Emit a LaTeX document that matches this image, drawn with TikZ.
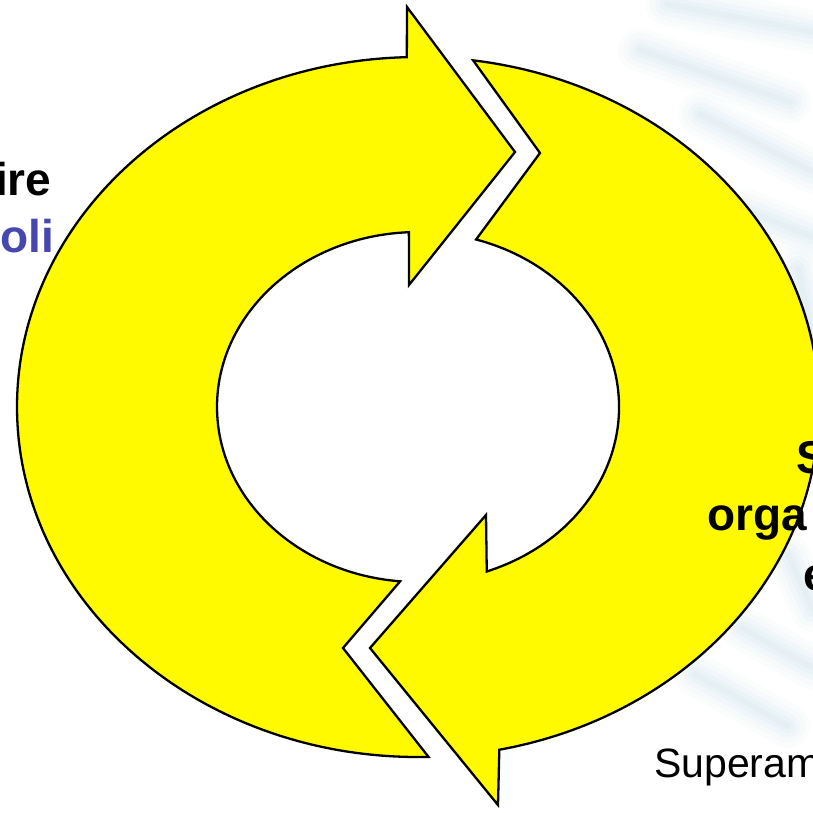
\documentclass[tikz,border=0pt]{standalone}
\usepackage{fontspec}
\setmainfont{Liberation Sans}
\definecolor{cycleyellow}{RGB}{255,250,0}
\definecolor{labelblue}{RGB}{70,72,176}
\definecolor{hazeblue}{RGB}{190,216,228}
\begin{document}
\begin{tikzpicture}[x=1pt,y=-1pt,
  cyclearrow/.style={fill=cycleyellow, draw=black, line width=2.3pt, line join=miter, miter limit=10},
  boldlabel/.style={inner sep=0pt, anchor=base west, font=\fontsize{46}{55}\selectfont\bfseries},
  plainlabel/.style={inner sep=0pt, anchor=base west, font=\fontsize{41}{49}\selectfont},
  haze/.style={draw=hazeblue, line cap=round}]
\useasboundingbox (0,0) rectangle (813,812);

% faint watermark streaks behind the cycle
\foreach \ax/\ay/\bx/\by in {667/4/813/32, 640/50/790/102, 700/114/813/172,
    745/210/813/237, 798/268/813/340, 742/628/813/668, 695/674/788/726, 788/555/813/610} {
  \foreach \w/\o in {44/0.06, 34/0.08, 24/0.1, 14/0.12, 6/0.12} {
    \draw[haze, line width=\w pt, opacity=\o] (\ax,\ay) -- (\bx,\by);
  }
}

% left half: tail at the bottom, head pointing right at the top
\draw[cyclearrow]
  ({418+401*cos(88.5)},{407+350*sin(88.5)})
    arc[start angle=88.5, end angle=268.4, x radius=401, y radius=350]
  -- (407,7) -- (515,152) -- (409,285)
  -- ({418+201*cos(267.4)},{407+175*sin(267.4)})
    arc[start angle=267.4, end angle=95.1, x radius=201, y radius=175]
  -- (343,648) -- cycle;

% right half: tail at the top, head pointing left at the bottom
\draw[cyclearrow]
  ({418+401*cos(-82.1)},{407+350*sin(-82.1)})
    arc[start angle=-82.1, end angle=78.3, x radius=401, y radius=350]
  -- (498,805) -- (370,648) -- (486,515)
  -- ({418+201*cos(70)},{407+175*sin(70)})
    arc[start angle=70, end angle=-73.2, x radius=201, y radius=175]
  -- (540,153) -- cycle;

% labels
\node[boldlabel] (ire) at (-5,195) {ire};
\node[boldlabel, text=labelblue] (oli) at (0,252) {oli};
\node[boldlabel] (sline) at (796,473) {S};
\node[boldlabel] (orga) at (707,530) {orga};
\node[boldlabel] (eline) at (803,590) {e};
\node[plainlabel] (superam) at (654,777) {Superam};
\end{tikzpicture}
\end{document}
